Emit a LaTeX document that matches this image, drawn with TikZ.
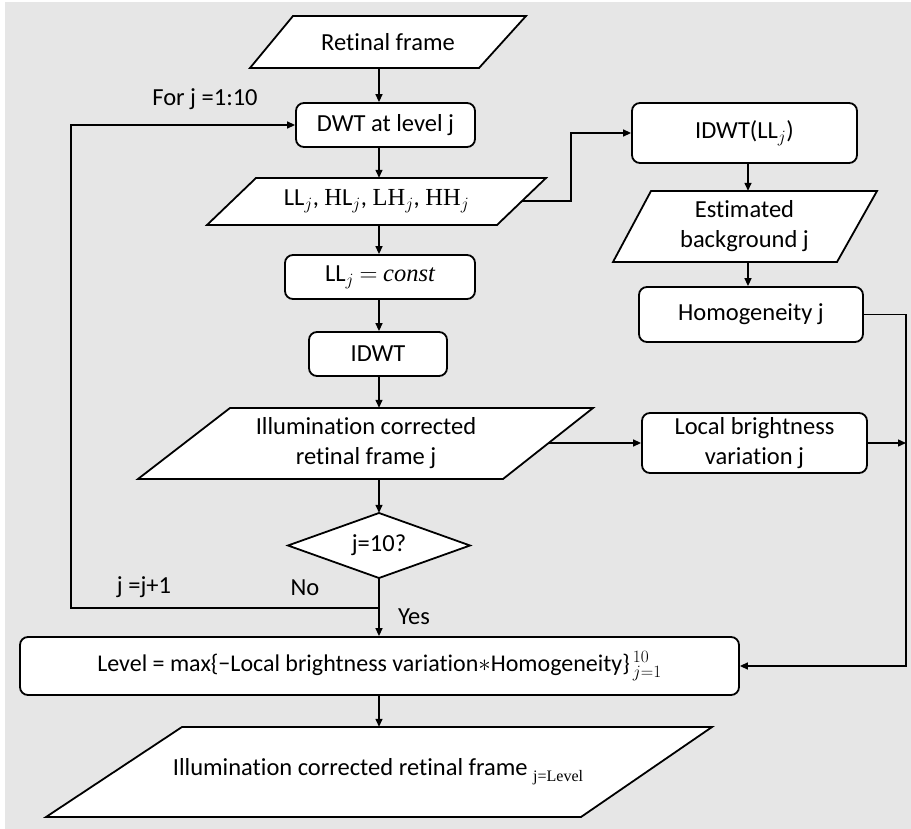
\documentclass[tikz,border=0pt]{standalone}
\usepackage{fontspec}
\setmainfont{Carlito}[Ligatures=NoCommon]
\newfontfamily\serif{Liberation Serif}
\usetikzlibrary{arrows.meta,calc}
\definecolor{bggray}{RGB}{230,230,230}
\begin{document}
\begin{tikzpicture}[x=1pt,y=-1pt,
  every node/.style={font=\fontsize{24.5}{30}\selectfont, align=center, inner sep=0pt},
  rbox/.style={draw, line width=1.8pt, rounded corners=8pt, fill=white},
  pshape/.style={draw, line width=1.8pt, fill=white, line join=miter},
  arr/.style={line width=1.4pt, -{Triangle[length=8pt,width=7pt]}},
  ln/.style={line width=1.4pt}
]
\useasboundingbox (0,0) rectangle (911,829);
\fill[white] (0,0) rectangle (911,829);
\fill[bggray] (5,2) rectangle (911,829);

\coordinate (mx) at (379,0);
\coordinate (rx) at (748,0);
\coordinate (rv) at (906,0);

% Retinal frame
\draw[pshape] (293,16) -- (526,16) -- (479,68) -- (250,68) -- cycle;
\node[minimum height=52pt] (rf) at (388,42) {Retinal frame};

% DWT
\node[rbox, minimum width=179pt, minimum height=44pt] (dwt) at (385.5,125) {DWT at level j};

% LL, HL, LH, HH
\draw[pshape] (256,178) -- (546,178) -- (497,225) -- (207,225) -- cycle;
\node[minimum height=47pt] (ll) at (376.5,201.5) {LL$_j$, {\serif H}L$_j$, {\serif LH}$_j$, {\serif HH}$_j$};

% const
\node[rbox, minimum width=190pt, minimum height=44pt] (cst) at (380,277) {LL$_j$ $=$ {\serif\itshape const}};

% IDWT
\node[rbox, minimum width=138pt, minimum height=44pt] (idwt) at (378,354) {IDWT};

% Illumination corrected
\draw[pshape] (230,408) -- (593,408) -- (503,479) -- (138,479) -- cycle;
\node[minimum height=71pt] (ic) at (366,443.5) {Illumination corrected\\retinal frame j};

% decision
\draw[pshape] (288,545.5) -- (379,513) -- (470,545.5) -- (379,578) -- cycle;
\node[minimum height=65pt] (dec) at (379,545.5) {j=10?};

% Level
\node[rbox, minimum width=719pt, minimum height=58pt, font=\fontsize{24}{30}\selectfont] (lvl) at (379.5,666)
  {Level = max\{−Local brightness variation$\ast$Homogeneity\}\kern3pt$^{10}_{j=1}$};

% Final
\draw[pshape] (182,727) -- (712,727) -- (581,817) -- (46,817) -- cycle;
\node[minimum height=90pt] (fin) at (378,772)
  {Illumination corrected retinal frame \raisebox{-6pt}{\fontsize{16}{16}\selectfont\serif j=Level}};

% right column
\node[rbox, minimum width=225pt, minimum height=60pt] (idll) at (744.5,133) {IDWT(LL$_j$)};
\draw[pshape] (651,191) -- (877,191) -- (837,262) -- (613,262) -- cycle;
\node[minimum height=71pt] (est) at (744.5,226.5) {Estimated\\background j};
\node[rbox, minimum width=224pt, minimum height=55pt] (hom) at (751,314.5) {Homogeneity j};
\node[rbox, minimum width=225pt, minimum height=60pt] (lbv) at (754.5,443) {Local brightness\\variation j};

% labels
\node (forl) at (205,99) {For j =1:10};
\node (jinc) at (144,587) {j =j+1};
\node (nol) at (305,588) {No};
\node (yesl) at (414,617) {Yes};

% main column connectors
\draw[arr] (rf.south -| mx) -- (dwt.north -| mx);
\draw[arr] (dwt.south -| mx) -- (ll.north -| mx);
\draw[arr] (ll.south -| mx) -- (cst.north -| mx);
\draw[arr] (cst.south -| mx) -- (idwt.north -| mx);
\draw[arr] (idwt.south -| mx) -- (ic.north -| mx);
\draw[arr] (ic.south -| mx) -- (dec.north -| mx);
\draw[arr] (dec.south -| mx) -- (lvl.north -| mx);
\draw[arr] (lvl.south -| mx) -- (fin.north -| mx);

% loop
\coordinate (lp) at (71,608);
\draw[arr] (dec.south |- lp) -- (lp) |- (dwt.west);

% branch to IDWT(LL)
\coordinate (llr) at (522,201);
\draw[arr] (llr) -- ++(49,0) |- (idll.west);

% right column connectors
\draw[arr] (idll.south -| rx) -- (est.north -| rx);
\draw[arr] (est.south -| rx) -- (hom.north -| rx);
\draw[arr] (hom.east) -- (hom.east -| rv) -- (rv |- lvl.east) -- (lvl.east);

\coordinate (icr) at (548,443);
\draw[arr] (icr) -- (lbv.west);
\draw[arr] (lbv.east) -- (lbv.east -| rv);
\end{tikzpicture}
\end{document}
